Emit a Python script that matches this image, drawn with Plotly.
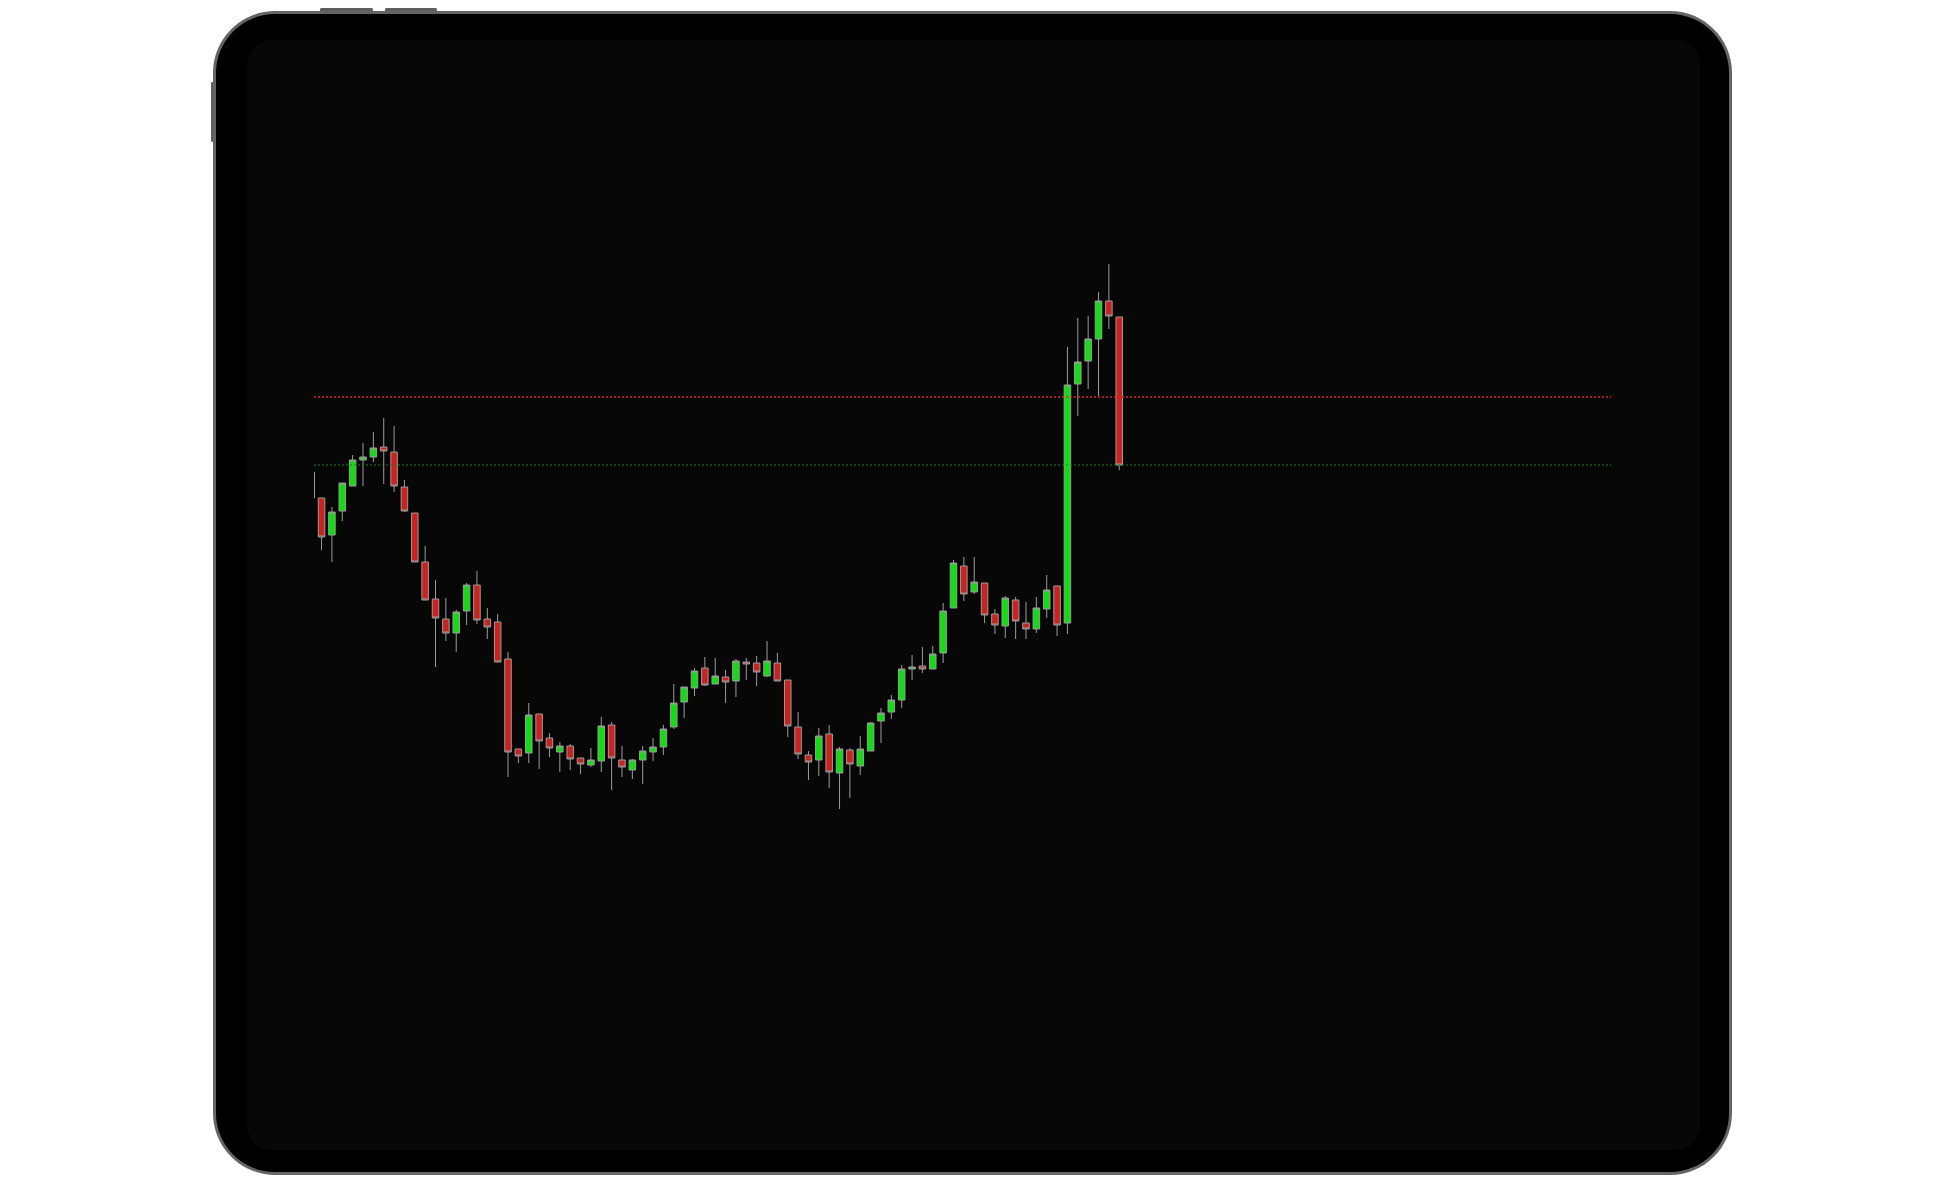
import plotly.graph_objects as go

# page body has an 8px margin: figure is placed at (8, 8)
OFF = 8
W, H = 1946 - OFF, 1191 - OFF

# ---- data (candle index, OHLC prices) ----
idx = list(range(-1, 78))
opens = [1.1302,
    1.1302, 1.1265, 1.1289, 1.1314, 1.1340, 1.1343, 1.1353, 1.1348, 1.1313, 1.1287,
    1.1238, 1.1201, 1.1181, 1.1167, 1.1189, 1.1215, 1.1181, 1.1178, 1.1141, 1.1051,
    1.1047, 1.1086, 1.1062, 1.1048, 1.1054, 1.1042, 1.1035, 1.1039, 1.1075, 1.1040,
    1.1030, 1.1040, 1.1048, 1.1053, 1.1073, 1.1098, 1.1112, 1.1132, 1.1116, 1.1123,
    1.1119, 1.1138, 1.1137, 1.1124, 1.1137, 1.1120, 1.1073, 1.1045, 1.1040, 1.1066,
    1.1027, 1.1050, 1.1034, 1.1049, 1.1079, 1.1088, 1.1100, 1.1131, 1.1134, 1.1131,
    1.1147, 1.1192, 1.1234, 1.1208, 1.1217, 1.1186, 1.1174, 1.1200, 1.1177, 1.1171,
    1.1191, 1.1214, 1.1177, 1.1416, 1.1439, 1.1461, 1.1499, 1.1483]
highs = [1.1329,
    1.1302, 1.1293, 1.1317, 1.1345, 1.1357, 1.1368, 1.1382, 1.1374, 1.1320, 1.1287,
    1.1254, 1.1220, 1.1202, 1.1190, 1.1217, 1.1229, 1.1192, 1.1186, 1.1148, 1.1051,
    1.1097, 1.1086, 1.1067, 1.1058, 1.1056, 1.1042, 1.1052, 1.1083, 1.1078, 1.1054,
    1.1041, 1.1054, 1.1062, 1.1075, 1.1116, 1.1113, 1.1132, 1.1143, 1.1142, 1.1130,
    1.1141, 1.1142, 1.1144, 1.1159, 1.1147, 1.1120, 1.1088, 1.1049, 1.1072, 1.1075,
    1.1053, 1.1052, 1.1064, 1.1078, 1.1092, 1.1105, 1.1135, 1.1145, 1.1153, 1.1154,
    1.1197, 1.1240, 1.1243, 1.1243, 1.1217, 1.1191, 1.1204, 1.1203, 1.1198, 1.1203,
    1.1225, 1.1214, 1.1453, 1.1482, 1.1484, 1.1508, 1.1536, 1.1483]
lows = [1.1300,
    1.1250, 1.1238, 1.1279, 1.1314, 1.1314, 1.1338, 1.1316, 1.1308, 1.1288, 1.1238,
    1.1200, 1.1133, 1.1159, 1.1148, 1.1175, 1.1176, 1.1161, 1.1138, 1.1023, 1.1037,
    1.1037, 1.1031, 1.1043, 1.1028, 1.1030, 1.1026, 1.1033, 1.1028, 1.1010, 1.1023,
    1.1021, 1.1016, 1.1039, 1.1045, 1.1071, 1.1082, 1.1104, 1.1114, 1.1116, 1.1097,
    1.1103, 1.1120, 1.1114, 1.1123, 1.1119, 1.1063, 1.1041, 1.1020, 1.1024, 1.1012,
    1.0991, 1.1002, 1.1025, 1.1049, 1.1057, 1.1081, 1.1092, 1.1120, 1.1127, 1.1131,
    1.1137, 1.1192, 1.1199, 1.1206, 1.1177, 1.1166, 1.1162, 1.1161, 1.1161, 1.1167,
    1.1182, 1.1164, 1.1166, 1.1384, 1.1411, 1.1404, 1.1471, 1.1330]
closes = [1.1328,
    1.1263, 1.1288, 1.1317, 1.1340, 1.1343, 1.1352, 1.1349, 1.1314, 1.1289, 1.1238,
    1.1200, 1.1182, 1.1167, 1.1188, 1.1215, 1.1180, 1.1173, 1.1138, 1.1048, 1.1044,
    1.1085, 1.1059, 1.1052, 1.1054, 1.1041, 1.1036, 1.1040, 1.1074, 1.1042, 1.1033,
    1.1040, 1.1049, 1.1053, 1.1071, 1.1097, 1.1113, 1.1129, 1.1115, 1.1124, 1.1118,
    1.1139, 1.1136, 1.1128, 1.1139, 1.1119, 1.1074, 1.1046, 1.1038, 1.1064, 1.1028,
    1.1051, 1.1036, 1.1051, 1.1077, 1.1087, 1.1100, 1.1131, 1.1133, 1.1131, 1.1146,
    1.1189, 1.1237, 1.1206, 1.1218, 1.1185, 1.1175, 1.1202, 1.1179, 1.1171, 1.1192,
    1.1210, 1.1175, 1.1415, 1.1438, 1.1461, 1.1499, 1.1484, 1.1335]

resistance_level = 1.1403
support_level = 1.1335

# ---- style ----
GREEN = "#12dc12"
RED = "#c8231f"
EDGE = "#9c9c9c"

fig = go.Figure()
fig.add_trace(go.Candlestick(
    x=idx, open=opens, high=highs, low=lows, close=closes,
    increasing=dict(fillcolor=GREEN, line=dict(color=EDGE, width=1)),
    decreasing=dict(fillcolor=RED, line=dict(color=EDGE, width=1)),
    whiskerwidth=0, hoverinfo="skip", showlegend=False,
))


def P(px, py):
    return f"{(px - OFF) / W:.6f},{1 - (py - OFF) / H:.6f}"


def rrect(x0, y0, x1, y1, r):
    k = 0.5523 * r
    return (f"M {P(x0 + r, y0)} L {P(x1 - r, y0)} "
            f"C {P(x1 - r + k, y0)} {P(x1, y0 + r - k)} {P(x1, y0 + r)} "
            f"L {P(x1, y1 - r)} "
            f"C {P(x1, y1 - r + k)} {P(x1 - r + k, y1)} {P(x1 - r, y1)} "
            f"L {P(x0 + r, y1)} "
            f"C {P(x0 + r - k, y1)} {P(x0, y1 - r + k)} {P(x0, y1 - r)} "
            f"L {P(x0, y0 + r)} "
            f"C {P(x0, y0 + r - k)} {P(x0 + r - k, y0)} {P(x0 + r, y0)} Z")


shapes = []
# device buttons
for (bx0, by0, bx1, by1) in [(320, 8, 373, 14), (385, 8, 437, 14), (211, 82, 216, 142)]:
    shapes.append(dict(type="path", xref="paper", yref="paper", layer="below",
                       path=rrect(bx0, by0, bx1, by1, 1.5), fillcolor="#5e5e5e",
                       line=dict(width=0)))
# outer frame
shapes.append(dict(type="path", xref="paper", yref="paper", layer="below",
                   path=rrect(213, 11, 1732, 1175, 62), fillcolor="#656565",
                   line=dict(width=0)))
shapes.append(dict(type="path", xref="paper", yref="paper", layer="below",
                   path=rrect(216, 14, 1729, 1172, 59), fillcolor="#000000",
                   line=dict(width=0)))
# screen
shapes.append(dict(type="path", xref="paper", yref="paper", layer="below",
                   path=rrect(247, 40, 1700, 1150, 24), fillcolor="#070707",
                   line=dict(width=0)))
# level lines (drawn over the candles)
shapes.append(dict(type="line", xref="x domain", yref="y", x0=0, x1=1,
                   y0=resistance_level, y1=resistance_level, layer="above",
                   line=dict(color="#d82a1c", width=1.6, dash="2px,2px")))
shapes.append(dict(type="line", xref="x domain", yref="y", x0=0, x1=1,
                   y0=support_level, y1=support_level, layer="above",
                   line=dict(color="#1e7e1e", width=1.2, dash="2px,2px")))

fig.update_layout(
    width=W, height=H,
    margin=dict(l=0, r=0, t=0, b=0),
    paper_bgcolor="#ffffff",
    plot_bgcolor="rgba(0,0,0,0)",
    boxgap=0.37, boxgroupgap=0,
    shapes=shapes,
    xaxis=dict(domain=[(314 - OFF) / W, (1611 - OFF) / W], range=[-0.73, 124.47],
               showgrid=False, zeroline=False, showticklabels=False,
               showline=False, ticks="", rangeslider=dict(visible=False),
               fixedrange=True),
    yaxis=dict(domain=[(H - (830 - OFF)) / H, (H - (250 - OFF)) / H],
               range=[1.0970, 1.1550],
               showgrid=False, zeroline=False, showticklabels=False,
               showline=False, ticks="", fixedrange=True),
    showlegend=False,
)

fig.write_html("out.html")
